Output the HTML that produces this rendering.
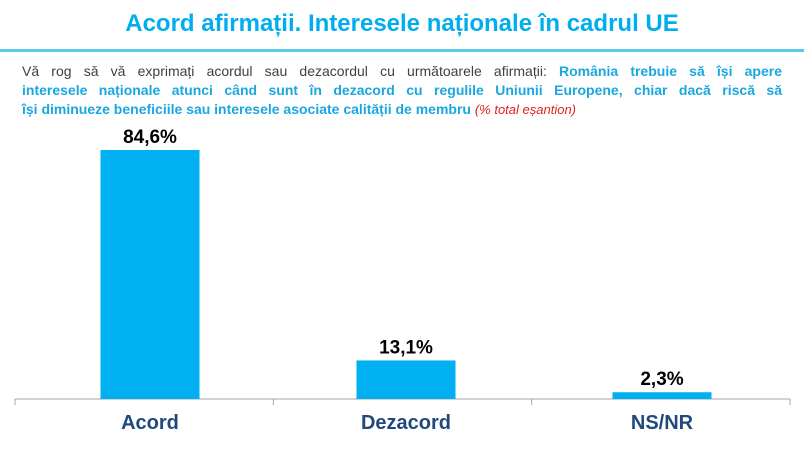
<!DOCTYPE html>
<html><head><meta charset="utf-8"><style>
body{margin:0;width:804px;height:450px;background:#fff;overflow:hidden;font-family:"Liberation Sans",Arial,sans-serif;position:relative}
#title{position:absolute;left:0;width:804px;top:10px;text-align:center;font-size:24px;font-weight:bold;color:#00aeef}
#rule{position:absolute;left:0;top:49px;width:804px;height:3px;background:#5cc6ee}
.q{position:absolute;left:22px;width:760px;font-size:14px;color:#404040;text-align:justify;text-align-last:justify;white-space:nowrap}
.q b{color:#1aa7e0}
.q i{color:#e0201b;font-size:13px}
</style></head><body>
<div id="title">Acord afirmații. Interesele naționale în cadrul UE</div>
<div id="rule"></div>
<div class="q" style="top:63px;white-space:normal">Vă rog să vă exprimați acordul sau dezacordul cu următoarele afirmații: <b>România trebuie să își apere</b></div>
<div class="q" style="top:82px;white-space:normal"><b>interesele naționale atunci când sunt în dezacord cu regulile Uniunii Europene, chiar dacă riscă să</b></div>
<div class="q" style="top:101px;text-align-last:left"><b>își diminueze beneficiile sau interesele asociate calității de membru</b> <i>(% total eșantion)</i></div>
<svg id="chart" width="804" height="450" style="position:absolute;left:0;top:0"></svg>
<script>
const categories=["Acord","Dezacord","NS/NR"];
const values=[84.6,13.1,2.3];
const valueLabels=["84,6%","13,1%","2,3%"];
const ns="http://www.w3.org/2000/svg";
const svg=document.getElementById('chart');
const x0=15,x1=790,base=399,scale=2.943;
const tw=(x1-x0)/categories.length;
const cx0=22,bw=256;
function y(v){return base-v*scale;}
function mk(t,a){const e=document.createElementNS(ns,t);for(const k in a)e.setAttribute(k,a[k]);svg.appendChild(e);return e;}
const ax=mk('line',{x1:x0,x2:x1,y1:base,y2:base,stroke:'#a6a6a6','stroke-width':1});


for(let i=0;i<=categories.length;i++){
  const t=mk('line',{x1:x0+i*tw,x2:x0+i*tw,y1:base,y2:base+6,stroke:'#a6a6a6'});
  
  
}
categories.forEach((c,i)=>{
  const cx=cx0+bw*(i+0.5);
  const r=mk('rect',{x:cx-49.5,y:y(values[i]),width:99,height:base-y(values[i]),fill:'#00b0f0'});
  
  
  const v=mk('text',{x:cx,y:y(values[i])-7,'text-anchor':'middle','font-size':19,'font-weight':'bold',fill:'#000','font-family':'Liberation Sans, sans-serif'});
  v.textContent=valueLabels[i];
  
  
  const l=mk('text',{x:cx,y:base+30,'text-anchor':'middle','font-size':20,'font-weight':'bold',fill:'#1f497d','font-family':'Liberation Sans, sans-serif'});
  l.textContent=c;
  
  
});
</script>
</body></html>
